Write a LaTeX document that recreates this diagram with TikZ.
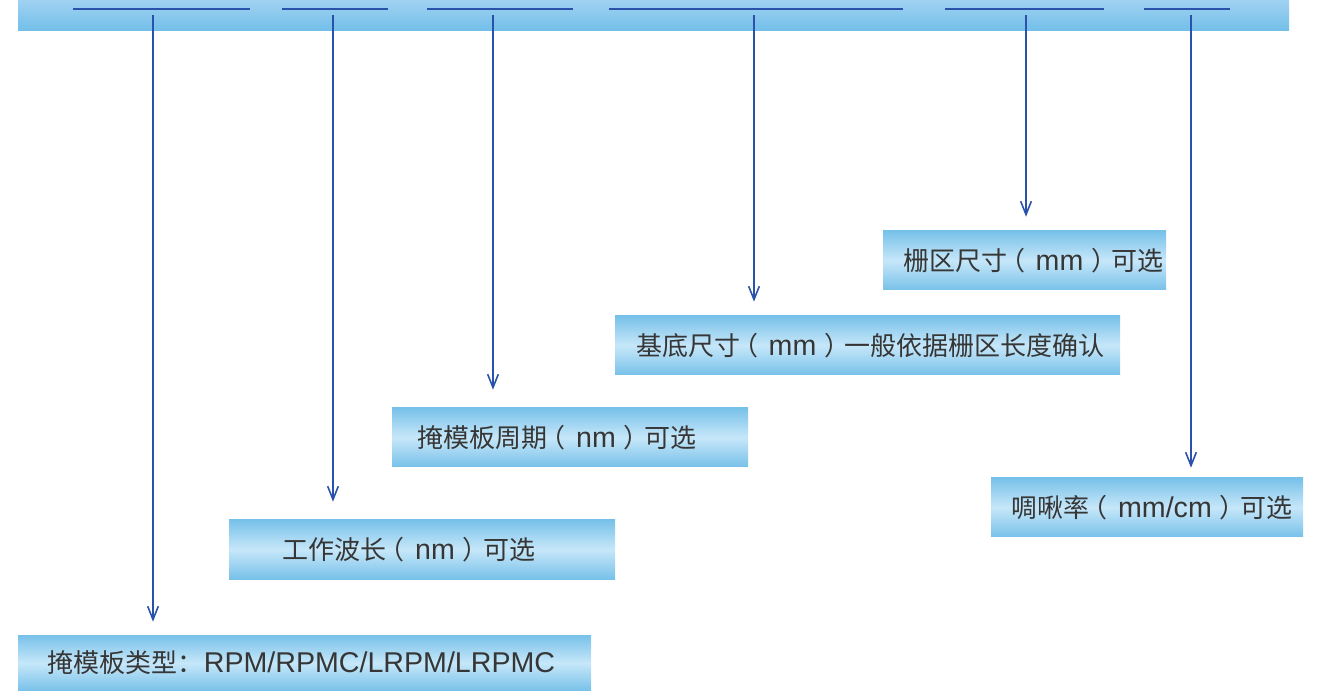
\documentclass[tikz,border=0pt]{standalone}
\usepackage{fontspec}
\setmainfont{Liberation Sans}[Scale=1.1]
\newfontfamily\cjk{Noto Sans CJK SC}
\usepackage{tikz}
\usetikzlibrary{fit}
\usetikzlibrary{arrows.meta}

\definecolor{barblue}{HTML}{2A52AA}
\definecolor{skyedge}{HTML}{78C1E9}
\definecolor{skymid}{HTML}{C6E7F9}
\definecolor{skytop}{HTML}{A0D2F2}
\definecolor{skybot}{HTML}{72BEE8}
\definecolor{txtgray}{HTML}{363636}

% full-width brackets with the glyph centred in its em box
\newcommand\lpar{\hbox to 1em{\hskip-0.28em{\cjk （}\hss}}
\newcommand\rpar{\hbox to 1em{\hskip0.28em{\cjk ）}\hss}}

\begin{document}
\begin{tikzpicture}[x=0.75pt,y=-0.75pt,
		infobox/.style = {inner sep=0pt, top color=skyedge, bottom color=skyedge, middle color=skymid,
			text=txtgray, font=\fontsize{19.5}{24}\selectfont},
		topbar/.style = {fit={#1}, inner sep=0pt, top color=skytop, bottom color=skybot},
		uline/.style = {barblue, line width=1.2pt},
		arrow/.style = {barblue, line width=1.2pt, -{Straight Barb[length=10pt,width=8pt,line width=1.2pt]}}
			]
		\useasboundingbox (0,0) rectangle (1318,691);

		% header bar
		\node (Bar) [topbar={(18,0) (1289,31)}] {};
		\draw [uline] (73,9) -- (250,9);
		\draw [uline] (282,9) -- (388,9);
		\draw [uline] (427,9) -- (573,9);
		\draw [uline] (609,9) -- (903,9);
		\draw [uline] (945,9) -- (1104,9);
		\draw [uline] (1144,9) -- (1230,9);

		% boxes
		\node (Type) [infobox, minimum width=429.75pt, minimum height=42pt] at (304.5,663)
			{{\cjk 掩模板类型：}RPM/RPMC/LRPM/LRPMC\hspace*{4.5pt}};
		\node (Wave) [infobox, minimum width=289.5pt, minimum height=44.25pt] at (422,549.5)
			{{\cjk 工作波长}\lpar nm\rpar{\cjk 可选}\hspace*{19.5pt}};
		\node (Period) [infobox, minimum width=267pt, minimum height=44.25pt] at (570,437.5)
			{{\cjk 掩模板周期}\lpar nm\rpar{\cjk 可选}\hspace*{19.5pt}};
		\node (Base) [infobox, minimum width=378.75pt, minimum height=44.25pt] at (867.5,345.5)
			{\hspace*{4.5pt}{\cjk 基底尺寸}\lpar mm\rpar{\cjk 一般依据栅区长度确认}};
		\node (Grid) [infobox, minimum width=212.25pt, minimum height=44.25pt] at (1024.5,260.5)
			{\hspace*{13.5pt}{\cjk 栅区尺寸}\lpar mm\rpar{\cjk 可选}};
		\node (Chirp) [infobox, minimum width=234pt, minimum height=44.25pt] at (1147,507.5)
			{\hspace*{7.5pt}{\cjk 啁啾率}\lpar mm/cm\rpar{\cjk 可选}};

		% arrows
		\coordinate (s1) at (153,15);
		\coordinate (s2) at (333,15);
		\coordinate (s3) at (493,15);
		\coordinate (s4) at (754,15);
		\coordinate (s5) at (1026,15);
		\coordinate (s6) at (1191,15);

		\draw [arrow, shorten >=9.75pt] (s1) -- (s1 |- Type.north);
		\draw [arrow, shorten >=13.5pt] (s2) -- (s2 |- Wave.north);
		\draw [arrow, shorten >=13.5pt] (s3) -- (s3 |- Period.north);
		\draw [arrow, shorten >=10.5pt] (s4) -- (s4 |- Base.north);
		\draw [arrow, shorten >=10.5pt] (s5) -- (s5 |- Grid.north);
		\draw [arrow, shorten >=7.5pt] (s6) -- (s6 |- Chirp.north);

	\end{tikzpicture}
\end{document}
